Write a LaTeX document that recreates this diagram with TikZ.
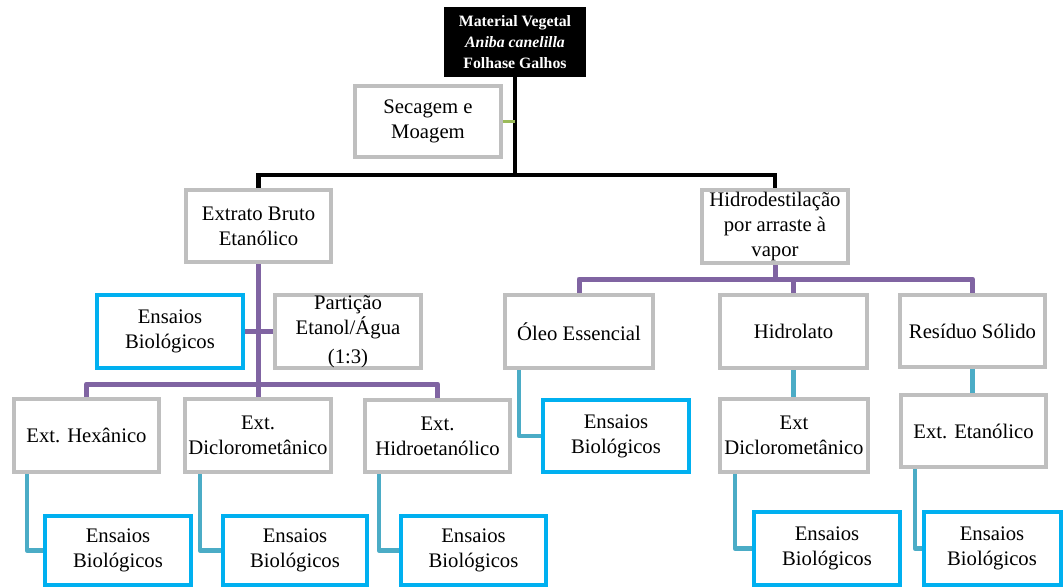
\documentclass[tikz,border=0pt]{standalone}
\usepackage{fontspec}
\setmainfont{Liberation Serif}
\usetikzlibrary{backgrounds}
\definecolor{boxgray}{HTML}{BFBFBF}
\definecolor{boxcyan}{HTML}{00B0F0}
\definecolor{linecyan}{HTML}{4BACC6}
\definecolor{linepurple}{HTML}{8064A2}
\definecolor{linegreen}{HTML}{9BBB59}
\tikzset{
  sz/.style 2 args={minimum width=#1pt, minimum height=#2pt},
  gbox/.style={draw=boxgray, line width=4pt, fill=white, inner sep=0pt,
    align=center, text=black, font=\fontsize{20.7}{25}\selectfont},
  cbox/.style={gbox, draw=boxcyan},
  topbox/.style={fill=black, draw=none, inner sep=0pt, align=center, text=white,
    font=\bfseries\fontsize{15.8}{21}\selectfont},
  blk/.style={line width=4.5pt, black},
  pur/.style={line width=5pt, linepurple, line join=round},
  cyl/.style={line width=4.5pt, linecyan, line join=round},
  grn/.style={line width=3pt, linegreen},
}
\begin{document}
\begin{tikzpicture}[x=1pt, y=-1pt]
\useasboundingbox (0,0) rectangle (1063,588);
% top
\node[topbox, sz={142}{70}] (mat) at (515,42) {Material Vegetal\\\textit{Aniba canelilla}\\Folhase Galhos};
\node[gbox, sz={146}{71}] (sec) at (428,121.5) {Secagem e\\Moagem};
% level 1
\node[gbox, sz={145}{72}] (ebe) at (258.5,226) {Extrato Bruto\\Etanólico};
\node[gbox, sz={146}{73}] (hid) at (775,226.5) {Hidrodestilação\\por arraste à\\vapor};
% left branch
\node[cbox, sz={146}{73}] (eb1) at (170,331.5) {Ensaios\\Biológicos};
\node[gbox, sz={146}{73}] (part) at (348,331.5) {Partição\\Etanol/Água\\[4pt](1:3)};
\node[gbox, sz={145}{73}] (hex) at (86.5,435.5) {Ext. Hexânico};
\node[gbox, sz={146}{73}] (dcm) at (258,435.5) {Ext.\\Diclorometânico};
\node[gbox, sz={145}{72}] (het) at (437.5,436) {Ext.\\Hidroetanólico};
\node[cbox, sz={146}{69}] (eb2) at (118,550.5) {Ensaios\\Biológicos};
\node[cbox, sz={144}{69}] (eb3) at (295,550.5) {Ensaios\\Biológicos};
\node[cbox, sz={145}{69}] (eb4) at (473.5,550.5) {Ensaios\\Biológicos};
% right branch
\node[gbox, sz={148}{73}] (oleo) at (579,331.5) {Óleo Essencial};
\node[gbox, sz={147}{73}] (hdl) at (793.5,331.5) {Hidrolato};
\node[gbox, sz={145}{72}] (res) at (972.5,331) {Resíduo Sólido};
\node[cbox, sz={146}{72}] (eb5) at (616,436) {Ensaios\\Biológicos};
\node[gbox, sz={148}{73}] (dcm2) at (794,435.5) {Ext\\Diclorometânico};
\node[gbox, sz={145}{72}] (eta) at (973.5,431) {Ext. Etanólico};
\node[cbox, sz={146}{73}] (eb6) at (827,548.5) {Ensaios\\Biológicos};
\node[cbox, sz={137}{73}] (eb7) at (992,548.5) {Ensaios\\Biológicos};
% junctions
\coordinate (jb) at (515,175);
\coordinate (jl) at (258.5,384);
\coordinate (jr) at (775,279);
\begin{pgfonlayer}{background}
\draw[blk] (mat.south) -- (jb);
\draw[blk] (ebe.north) |- (jb) -| (hid.north);
\draw[grn] (sec.east) -- (sec.east -| jb);
% left purple
\draw[pur] (ebe.south) -- (jl);
\draw[pur] (eb1.east) -- (part.west);
\draw[pur] (hex.north) |- (jl) -| (het.north);
\draw[pur] (dcm.north) -- (dcm.north |- jl);
% right purple
\draw[pur] (hid.south) -- (jr);
\draw[pur] (oleo.north) |- (jr) -| (res.north);
\draw[pur] (hdl.north) -- (hdl.north |- jr);
% cyan
\draw[cyl] ([xshift=15pt]hex.south west) |- (eb2.west);
\draw[cyl] ([xshift=17pt]dcm.south west) |- (eb3.west);
\draw[cyl] ([xshift=16pt]het.south west) |- (eb4.west);
\draw[cyl] ([xshift=16pt]oleo.south west) |- (eb5.west);
\draw[cyl] ([xshift=17pt]dcm2.south west) |- (eb6.west);
\draw[cyl] ([xshift=16pt]eta.south west) |- (eb7.west);
\draw[cyl] (hdl.south) -- (dcm2.north -| hdl.south);
\draw[cyl] (res.south) -- (eta.north -| res.south);
\end{pgfonlayer}
\end{tikzpicture}
\end{document}
